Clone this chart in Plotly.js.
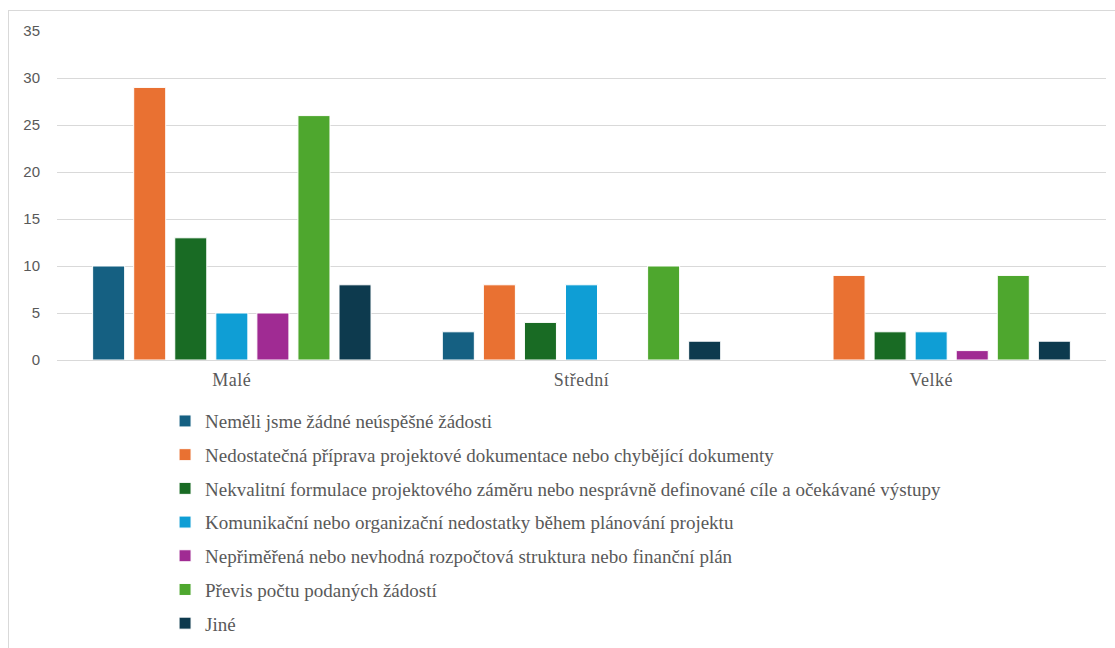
<!DOCTYPE html>
<html>
<head>
<meta charset="utf-8">
<script src="https://cdn.plot.ly/plotly-3.0.1.min.js"></script>
<style>
  html, body { margin: 0; padding: 0; background: #fff; overflow: hidden; }
  #frame { position: absolute; left: 8px; top: 10px; width: 1107px; height: 638px; overflow: hidden;
           border-left: 1px solid #d9d9d9; border-top: 1px solid #d9d9d9; box-sizing: border-box; }
  #chart { position: absolute; left: 0; top: 0; width: 1106px; height: 700px; }
  #chart .xtick text { letter-spacing: 0.5px; }
</style>
</head>
<body>
<div id="frame"><div id="chart"></div></div>
<script>
const categories = ["Malé", "Střední", "Velké"];
const seriesNames = [
  "Neměli jsme žádné neúspěšné žádosti",
  "Nedostatečná příprava projektové dokumentace nebo chybějící dokumenty",
  "Nekvalitní formulace projektového záměru nebo nesprávně definované cíle a očekávané výstupy",
  "Komunikační nebo organizační nedostatky během plánování projektu",
  "Nepřiměřená nebo nevhodná rozpočtová struktura nebo finanční plán",
  "Převis počtu podaných žádostí",
  "Jiné"
];
const nemeli = [10, 3, 0];
const nedostatecna = [29, 8, 9];
const nekvalitni = [13, 4, 3];
const komunikacni = [5, 8, 3];
const neprimerena = [5, 0, 1];
const previs = [26, 10, 9];
const jine = [8, 2, 2];
const seriesValues = [nemeli, nedostatecna, nekvalitni, komunikacni, neprimerena, previs, jine];
const colors = ["#156082", "#E97132", "#196B24", "#0F9ED5", "#A02B93", "#4EA72E", "#0D3A4E"];
const yTicks = [0, 5, 10, 15, 20, 25, 30, 35];

const serifFont = "'Liberation Serif', 'Times New Roman', Times, serif";

const traces = seriesNames.map((name, i) => ({
  type: "bar",
  name: name,
  x: categories,
  y: seriesValues[i],
  legendgroup: "g" + i,
  marker: { color: colors[i], line: { color: "#ffffff", width: 1 } },
  hoverinfo: "x+y+name"
}));

const layout = {
  width: 1106,
  height: 700,
  margin: { l: 48, r: 9, t: 20, b: 351 },
  paper_bgcolor: "#ffffff",
  plot_bgcolor: "#ffffff",
  barmode: "group",
  bargap: 0.178,
  bargroupgap: 0.22,
  showlegend: true,
  xaxis: {
    type: "category",
    showgrid: false,
    zeroline: false,
    showline: false,
    ticks: "",
    tickfont: { family: serifFont, size: 18, color: "#595959" },
    ticklabelstandoff: 7
  },
  yaxis: {
    range: [0, 35],
    tickvals: yTicks,
    ticktext: yTicks.map(String),
    showgrid: true,
    gridcolor: "#d9d9d9",
    gridwidth: 1,
    zeroline: true,
    zerolinecolor: "#d9d9d9",
    zerolinewidth: 1,
    showline: false,
    ticks: "",
    ticklabelstandoff: 16,
    tickfont: { family: "'Liberation Sans', Arial, sans-serif", size: 15, color: "#595959" }
  },
  legend: {
    orientation: "v",
    x: 0.103,
    xanchor: "left",
    y: -0.128,
    yanchor: "top",
    tracegroupgap: 6,
    itemclick: false,
    font: { family: serifFont, size: 19, color: "#595959" },
    bgcolor: "rgba(0,0,0,0)"
  }
};

Plotly.newPlot("chart", traces, layout, { displayModeBar: false, staticPlot: true });
</script>
</body>
</html>
